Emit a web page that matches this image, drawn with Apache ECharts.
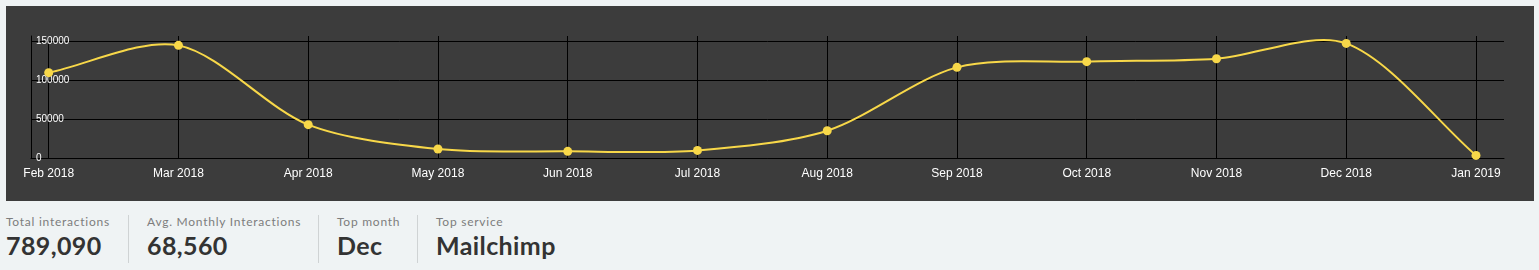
<!DOCTYPE html>
<html>
<head>
<meta charset="utf-8">
<script src="https://cdn.jsdelivr.net/npm/echarts@6/dist/echarts.min.js"></script>
<style>
  html, body { margin: 0; padding: 0; width: 1539px; height: 270px; background: #eff3f4; overflow: hidden; }
  #chart { position: absolute; left: 6px; top: 6px; width: 1528px; height: 195px; background: #3c3c3c; }
  #stats { position: absolute; left: 6px; top: 215px; height: 48px; display: flex; font-family: Lato, "Open Sans", "Liberation Sans", sans-serif; }
  .col { box-sizing: border-box; height: 48px; border-left: 1px solid #cfd3d4; padding-left: 18px; white-space: nowrap; }
  .col:first-child { border-left: none; padding-left: 0; }
  .lbl { font-size: 12px; color: #7d7d7d; line-height: 14px; margin-top: 0px; letter-spacing: 0.75px; }
  .val { font-size: 25px; font-weight: 700; color: #333; line-height: 28px; margin-top: 2px; letter-spacing: 0.4px; }
</style>
</head>
<body>
<div id="chart"></div>
<div id="stats"></div>
<script>
const months = ['Feb 2018','Mar 2018','Apr 2018','May 2018','Jun 2018','Jul 2018','Aug 2018','Sep 2018','Oct 2018','Nov 2018','Dec 2018','Jan 2019'];
const interactions = [109400, 144400, 42700, 11500, 8500, 9700, 35000, 116200, 123500, 127300, 146900, 3300];
const yTickInterval = 50000;
const statLabels = ['Total interactions', 'Avg. Monthly Interactions', 'Top month', 'Top service'];
const statValues = ['789,090', '68,560', 'Dec', 'Mailchimp'];

// stats row
const colWidths = [122, 190, 99, 200];
const stats = document.getElementById('stats');
statLabels.forEach((l, i) => {
  const c = document.createElement('div');
  c.className = 'col';
  c.style.width = colWidths[i] + 'px';
  c.innerHTML = '<div class="lbl"></div><div class="val"></div>';
  c.querySelector('.lbl').textContent = l;
  c.querySelector('.val').textContent = statValues[i];
  stats.appendChild(c);
});

const yMax = 156400;
const tension = 0.3;
const lineColor = '#f8d849';
const font = 'Helvetica, Arial, "Liberation Sans", sans-serif';

// cardinal-style spline through the points (Chart.js-like), built from axis coordinates
function splinePath(api) {
  const pts = interactions.map((v, i) => api.coord([i, v]));
  const n = pts.length;
  const cps = pts.map((cur, i) => {
    const prev = pts[Math.max(0, i - 1)];
    const next = pts[Math.min(n - 1, i + 1)];
    const d01 = Math.hypot(cur[0] - prev[0], cur[1] - prev[1]);
    const d12 = Math.hypot(next[0] - cur[0], next[1] - cur[1]);
    let s01 = d01 / (d01 + d12), s12 = d12 / (d01 + d12);
    if (!isFinite(s01)) s01 = 0;
    if (!isFinite(s12)) s12 = 0;
    const fa = tension * s01, fb = tension * s12;
    return {
      p: [cur[0] - fa * (next[0] - prev[0]), cur[1] - fa * (next[1] - prev[1])],
      n: [cur[0] + fb * (next[0] - prev[0]), cur[1] + fb * (next[1] - prev[1])]
    };
  });
  let d = 'M' + pts[0][0] + ' ' + pts[0][1];
  for (let i = 1; i < n; i++) {
    const a = cps[i - 1].n, b = cps[i].p, p = pts[i];
    d += ' C' + a[0] + ' ' + a[1] + ' ' + b[0] + ' ' + b[1] + ' ' + p[0] + ' ' + p[1];
  }
  return d;
}

const chart = echarts.init(document.getElementById('chart'), null, { renderer: 'canvas' });
chart.setOption({
  animation: false,
  grid: [
    { left: 25, top: 30, width: 1473, height: 122, containLabel: false },
    { left: 42.7, top: 30, width: 1427.3, height: 122, containLabel: false }
  ],
  xAxis: [
    { gridIndex: 0, type: 'value', min: 0, max: 1, show: true,
      axisLine: { show: true, lineStyle: { color: '#000', width: 1 } },
      axisTick: { show: false }, axisLabel: { show: false }, splitLine: { show: false } },
    { gridIndex: 1, type: 'category', data: months, boundaryGap: false,
      axisLine: { show: false }, axisTick: { show: false },
      axisLabel: { color: '#ffffff', fontSize: 12, fontFamily: font, margin: 10 },
      splitLine: { show: true, lineStyle: { color: '#000', width: 1 } } }
  ],
  yAxis: [
    { gridIndex: 0, type: 'value', min: 0, max: yMax, interval: yTickInterval,
      axisLine: { show: true, lineStyle: { color: '#000', width: 1 } },
      axisTick: { show: false },
      axisLabel: { inside: true, margin: 5, color: '#ffffff', fontSize: 10, fontFamily: font, showMaxLabel: false,
        formatter: v => String(v) },
      splitLine: { show: true, showMaxLine: false, lineStyle: { color: '#000', width: 1 } } },
    { gridIndex: 1, type: 'value', min: 0, max: yMax, show: false, splitLine: { show: false } }
  ],
  series: [
    {
      type: 'custom', xAxisIndex: 1, yAxisIndex: 1,
      data: interactions.map((v, i) => [i, v]),
      encode: { x: 0, y: 1 },
      z: 4,
      renderItem: (params, api) => {
        if (params.dataIndex !== 0) return null;
        return {
          type: 'path',
          shape: { pathData: splinePath(api) },
          style: { fill: null, stroke: lineColor, lineWidth: 2 }
        };
      }
    },
    {
      type: 'line', xAxisIndex: 1, yAxisIndex: 1,
      data: interactions,
      symbol: 'circle', symbolSize: 9, showAllSymbol: true,
      itemStyle: { color: lineColor },
      lineStyle: { width: 0, opacity: 0 },
      z: 5
    }
  ]
});
</script>
</body>
</html>
